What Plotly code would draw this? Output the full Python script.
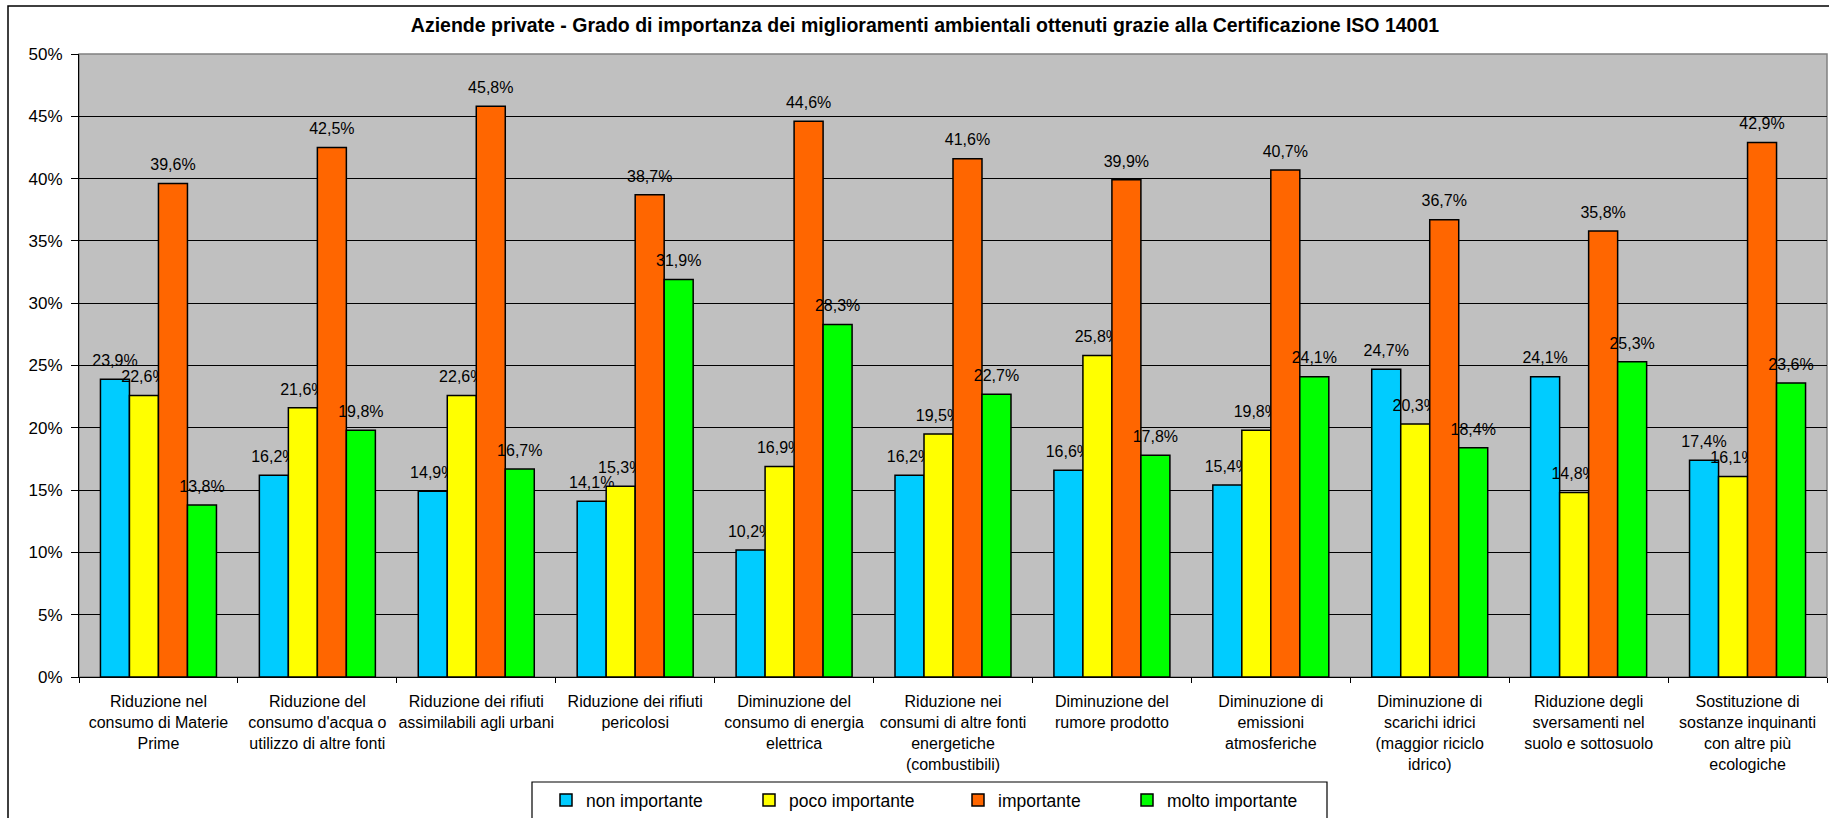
import plotly.graph_objects as go

categories = [
    "Riduzione nel<br>consumo di Materie<br>Prime",
    "Riduzione del<br>consumo d'acqua o<br>utilizzo di altre fonti",
    "Riduzione dei rifiuti<br>assimilabili agli urbani",
    "Riduzione dei rifiuti<br>pericolosi",
    "Diminuzione del<br>consumo di energia<br>elettrica",
    "Riduzione nei<br>consumi di altre fonti<br>energetiche<br>(combustibili)",
    "Diminuzione del<br>rumore prodotto",
    "Diminuzione di<br>emissioni<br>atmosferiche",
    "Diminuzione di<br>scarichi idrici<br>(maggior riciclo<br>idrico)",
    "Riduzione degli<br>sversamenti nel<br>suolo e sottosuolo",
    "Sostituzione di<br>sostanze inquinanti<br>con altre più<br>ecologiche",
]

non_importante = [23.9, 16.2, 14.9, 14.1, 10.2, 16.2, 16.6, 15.4, 24.7, 24.1, 17.4]
poco_importante = [22.6, 21.6, 22.6, 15.3, 16.9, 19.5, 25.8, 19.8, 20.3, 14.8, 16.1]
importante = [39.6, 42.5, 45.8, 38.7, 44.6, 41.6, 39.9, 40.7, 36.7, 35.8, 42.9]
molto_importante = [13.8, 19.8, 16.7, 31.9, 28.3, 22.7, 17.8, 24.1, 18.4, 25.3, 23.6]

series_names = ["non importante", "poco importante", "importante", "molto importante"]
series_values = [non_importante, poco_importante, importante, molto_importante]
colors = ["#00CCFF", "#FFFF00", "#FF6600", "#00FF00"]
legend_widths = [158, 164, 124, 140]

title = "Aziende private - Grado di importanza dei miglioramenti ambientali ottenuti grazie alla Certificazione ISO 14001"
y_ticks = [0, 5, 10, 15, 20, 25, 30, 35, 40, 45, 50]

FONT = "Arial, 'Liberation Sans', sans-serif"
LABEL_GAP = 0.0058  # vertical space between bar top and its label (data units)

fig = go.Figure()
for i, (name, vals, col, lw) in enumerate(zip(series_names, series_values, colors, legend_widths)):
    fracs = [v / 100 for v in vals]
    fig.add_trace(go.Bar(
        name=name, x=categories, y=fracs,
        marker=dict(color=col, line=dict(color="black", width=1.5)),
        offsetgroup=str(i), hoverinfo="skip", legendwidth=lw,
    ))
    # invisible carrier for the data labels, stacked just above the bar
    fig.add_trace(go.Bar(
        x=categories, y=[LABEL_GAP] * len(vals), base=fracs,
        marker=dict(color="rgba(0,0,0,0)", line=dict(width=0)),
        offsetgroup=str(i), showlegend=False, hoverinfo="skip",
        text=[f"{v:.1f}%".replace(".", ",") for v in vals],
        textposition="outside", cliponaxis=False, constraintext="none",
        textfont=dict(family=FONT, size=16, color="black"),
    ))

plot_l, plot_r, plot_t, plot_b = 79, 1827, 54, 677
W, H = 1829, 818
pw, ph = plot_r - plot_l, plot_b - plot_t


def px_x(p):
    return (p - plot_l) / pw


def px_y(p):
    return (plot_b - p) / ph


fig.update_layout(
    width=W, height=H,
    margin=dict(l=plot_l, r=W - plot_r, t=plot_t, b=H - plot_b, autoexpand=False),
    paper_bgcolor="white", plot_bgcolor="#C0C0C0",
    barmode="group", bargap=0.27, bargroupgap=0,
    separators=",.",
    font=dict(family=FONT, size=16, color="black"),
    title=dict(text="<b>" + title + "</b>", x=925 / W, xref="container", xanchor="center",
               y=1 - 25 / H, yref="container", yanchor="middle",
               font=dict(family=FONT, size=19.5, color="black")),
    showlegend=True,
    legend=dict(orientation="h", x=px_x(546), xanchor="left",
                y=px_y(782), yanchor="top",
                borderwidth=0, bgcolor="rgba(0,0,0,0)",
                font=dict(family=FONT, size=17.5, color="black"),
                itemwidth=30, traceorder="normal"),
    xaxis=dict(type="category", showgrid=False, showline=True, linecolor="black", linewidth=1,
               ticks="outside", tickson="boundaries", ticklen=5, tickcolor="black",
               ticklabelstandoff=10,
               tickfont=dict(family=FONT, size=16, color="black"), tickangle=0,
               fixedrange=True),
    yaxis=dict(range=[0, 0.5], tickvals=[t / 100 for t in y_ticks], tickformat=".0%",
               showgrid=True, gridcolor="black", gridwidth=1, zeroline=False,
               showline=True, linecolor="black", linewidth=1,
               ticks="outside", ticklen=7, tickcolor="black", ticklabelstandoff=5,
               tickfont=dict(family=FONT, size=17, color="black")),
    shapes=[
        # plot-area frame
        dict(type="rect", xref="paper", yref="paper", x0=0, x1=1, y0=0, y1=1,
             line=dict(color="#808080", width=1.5), layer="below"),
        # chart-area frame
        dict(type="rect", xref="paper", yref="paper",
             x0=px_x(8), x1=px_x(W + 20), y0=px_y(H + 20), y1=px_y(6),
             line=dict(color="black", width=1.5), fillcolor="rgba(0,0,0,0)", layer="above"),
        # legend frame
        dict(type="rect", xref="paper", yref="paper",
             x0=px_x(532), x1=px_x(1327), y0=px_y(H + 20), y1=px_y(782),
             line=dict(color="black", width=1.2), fillcolor="white", layer="above"),
    ],
)

post_js = """
document.body.style.margin = '0';
document.body.style.overflow = 'hidden';
"""

fig.write_html("out.html", post_script=post_js, config={"displayModeBar": False})
